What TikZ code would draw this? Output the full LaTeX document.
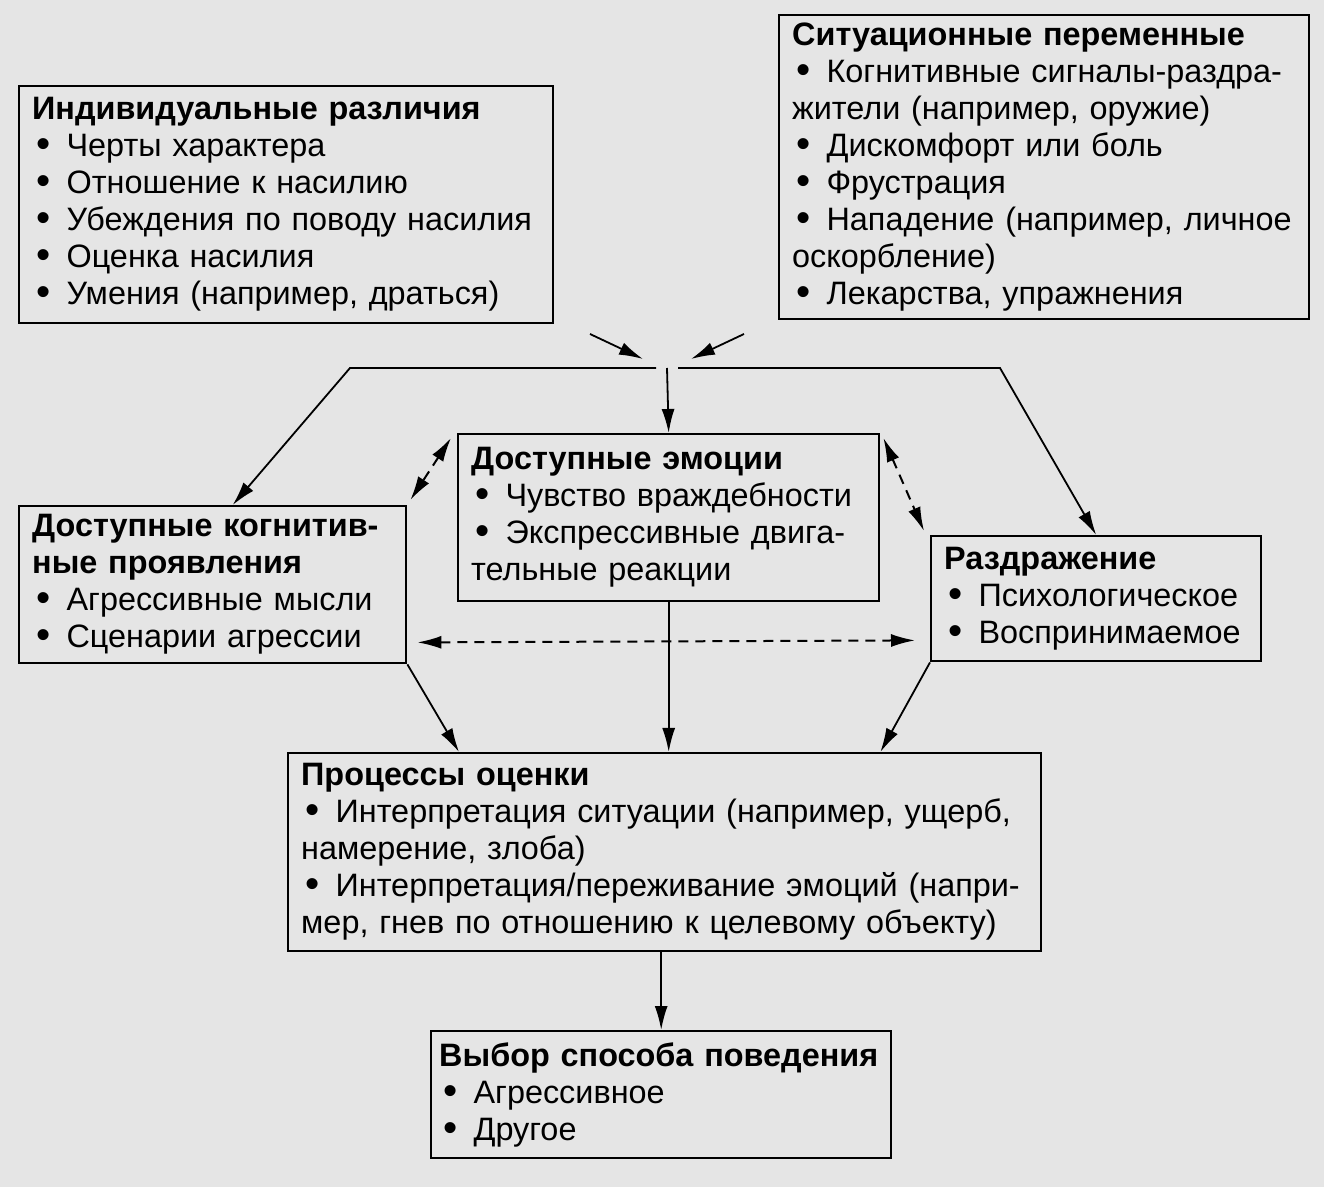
\documentclass[tikz,border=0pt]{standalone}
\usepackage{fontspec}
\setmainfont{Liberation Sans}
\usetikzlibrary{arrows.meta,calc}
\newcommand{\itm}{\hspace{2pt}\raisebox{-0.5pt}{\scalebox{1.25}{\textbullet}}\hspace{0.5em}}

\begin{document}
\begin{tikzpicture}[>={Latex[length=12pt,width=6.5pt]}, x=0.5pt, y=-0.5pt,
  box/.style={draw, line width=1.2pt, anchor=north west, align=left,
    inner xsep=6.5pt, inner ysep=0pt, font=\fontsize{16.2}{18.5}\selectfont},
  link/.style={line width=0.9pt, ->},
  dlink/.style={line width=1pt, <->, dash pattern=on 5pt off 3.5pt}]
  \fill[black!10] (0,0) rectangle (1324,1187);
  \useasboundingbox (0,0) rectangle (1324,1187);

  \node[box, text width=254pt, minimum height=118.5pt] (ir) at (18,85)
    {\textbf{Индивидуальные различия}\\
     \itm Черты характера\\
     \itm Отношение к насилию\\
     \itm Убеждения по поводу насилия\\
     \itm Оценка насилия\\
     \itm Умения (например, драться)};
  \node[box, text width=252pt, minimum height=152pt] (sv) at (778,14)
    {\textbf{Ситуационные переменные}\\
     \itm Когнитивные сигналы-раздра-\\
     жители (например, оружие)\\
     \itm Дискомфорт или боль\\
     \itm Фрустрация\\
     \itm Нападение (например, личное\\
     оскорбление)\\
     \itm Лекарства, упражнения};
  \node[box, text width=197.5pt, minimum height=83.5pt] (em) at (457,433)
    {\textbf{Доступные эмоции}\\
     \itm Чувство враждебности\\
     \itm Экспрессивные двига-\\
     тельные реакции};
  \node[box, text width=180.5pt, minimum height=78.5pt] (cog) at (18,505)
    {\textbf{Доступные когнитив-}\\
     \textbf{ные проявления}\\
     \itm Агрессивные мысли\\
     \itm Сценарии агрессии};
  \node[box, text width=152pt, minimum height=62.5pt] (raz) at (930,535)
    {\textbf{Раздражение}\\
     \itm Психологическое\\
     \itm Воспринимаемое};
  \node[box, text width=363.5pt, minimum height=99pt] (pr) at (287,752)
    {\textbf{Процессы оценки}\\
     \itm Интерпретация ситуации (например, ущерб,\\
     намерение, злоба)\\
     \itm Интерпретация/переживание эмоций (напри-\\
     мер, гнев по отношению к целевому объекту)};
  \node[box, inner xsep=4pt, text width=222pt, minimum height=63.5pt] (vy) at (430,1030)
    {\textbf{Выбор способа поведения}\\
     \itm Агрессивное\\
     \itm Другое};

  % inputs meet above the emotions box
  \coordinate (hub) at (667,368);
  \coordinate (inl) at (590,334);
  \coordinate (inr) at (744,334);
  \draw[link] (inl) -- (643,359);
  \draw[link] (inr) -- (691,359);
  \draw[link] (hub) -- (em.north);
  \draw[link] (656,368) -- (350,368) -- ($(cog.north)+(20,0)$);
  \draw[link] (678,368) -- (1000,368) -- (raz.north);

  \draw[dlink] ($(em.north west)+(-6,5)$) -- ($(cog.north east)+(3,-5)$);
  \draw[dlink] ($(em.north east)+(3,5)$) -- ($(raz.north west)+(-6,-4)$);
  \draw[dlink] ($(cog.south east)+(10,-22)$) -- ($(raz.south west)+(-15,-22)$);

  \draw[link] (cog.south east) -- ($(pr.north west)+(172,0)$);
  \draw[link] (em.south) -- (em.south |- pr.north);
  \draw[link] (raz.south west) -- ($(pr.north east)+(-162,0)$);
  \draw[link] (pr.south -| vy.north) -- (vy.north);
\end{tikzpicture}
\end{document}
